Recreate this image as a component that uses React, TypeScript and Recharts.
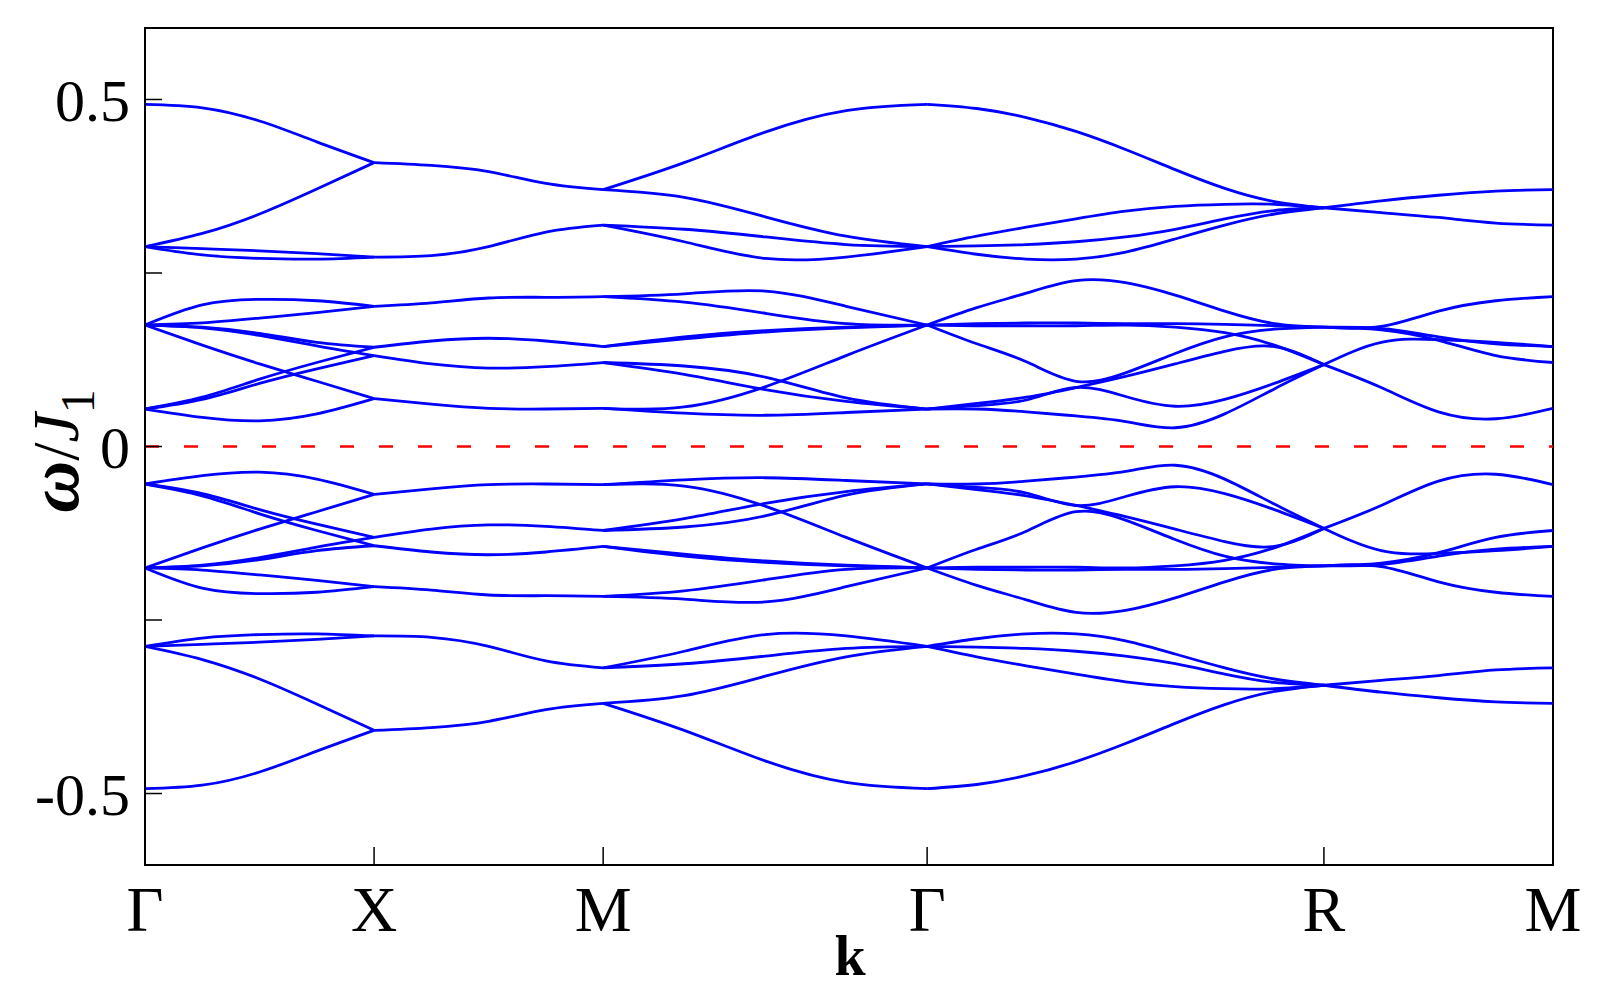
import { LineChart, Line, XAxis, YAxis, ReferenceLine, ReferenceArea } from 'recharts';

// high-symmetry path: Γ-X-M-Γ-R-M, segment lengths 1, 1, √2, √3, 1
const K_TICKS = [0, 1, 2, 3.4142, 5.1463, 6.1463];
const K_LABELS = ['Γ', 'X', 'M', 'Γ', 'R', 'M'];
const W_TICKS = [-0.5, -0.25, 0, 0.25, 0.5];
const W_LABELS = ['-0.5', '', '0', '', '0.5'];
const W_MAX = 0.603;

// bands per segment, values at equal steps along the segment
const GX_UP = [
  [0.493, 0.488, 0.469, 0.439, 0.409],
  [0.288, 0.307, 0.335, 0.371, 0.409],
  [0.288, 0.285, 0.282, 0.278, 0.273],
  [0.288, 0.276, 0.271, 0.270, 0.273],
  [0.175, 0.204, 0.212, 0.210, 0.202],
  [0.175, 0.178, 0.185, 0.193, 0.202],
  [0.175, 0.172, 0.163, 0.150, 0.143],
  [0.175, 0.171, 0.160, 0.145, 0.131],
  [0.175, 0.146, 0.119, 0.094, 0.069],
  [0.054, 0.071, 0.097, 0.121, 0.143],
  [0.054, 0.068, 0.091, 0.112, 0.131],
  [0.054, 0.042, 0.037, 0.047, 0.069],
];
const GX_DN = [
  [-0.493, -0.488, -0.469, -0.439, -0.409],
  [-0.288, -0.307, -0.335, -0.371, -0.409],
  [-0.288, -0.285, -0.282, -0.278, -0.273],
  [-0.288, -0.276, -0.271, -0.270, -0.273],
  [-0.175, -0.204, -0.212, -0.210, -0.202],
  [-0.175, -0.178, -0.185, -0.193, -0.202],
  [-0.175, -0.172, -0.163, -0.150, -0.143],
  [-0.175, -0.171, -0.160, -0.145, -0.131],
  [-0.175, -0.146, -0.119, -0.094, -0.069],
  [-0.054, -0.071, -0.097, -0.121, -0.143],
  [-0.054, -0.068, -0.091, -0.112, -0.131],
  [-0.054, -0.042, -0.037, -0.047, -0.069],
];

const XM_UP = [
  [0.409, 0.405, 0.396, 0.379, 0.370],
  [0.273, 0.275, 0.288, 0.309, 0.319],
  [0.202, 0.207, 0.214, 0.215, 0.216],
  [0.143, 0.152, 0.156, 0.152, 0.144],
  [0.131, 0.119, 0.113, 0.115, 0.121],
  [0.069, 0.061, 0.055, 0.054, 0.055],
];
const XM_DN = [
  [-0.409, -0.405, -0.396, -0.379, -0.370],
  [-0.273, -0.275, -0.288, -0.309, -0.319],
  [-0.202, -0.207, -0.214, -0.215, -0.216],
  [-0.143, -0.152, -0.156, -0.152, -0.144],
  [-0.131, -0.119, -0.113, -0.115, -0.121],
  [-0.069, -0.061, -0.055, -0.054, -0.055],
];

const MG_UP = [
  [0.370, 0.409, 0.453, 0.484, 0.493],
  [0.370, 0.359, 0.331, 0.303, 0.288],
  [0.319, 0.313, 0.302, 0.291, 0.288],
  [0.319, 0.295, 0.271, 0.273, 0.288],
  [0.216, 0.220, 0.224, 0.202, 0.175],
  [0.216, 0.208, 0.192, 0.177, 0.175],
  [0.144, 0.158, 0.167, 0.172, 0.175],
  [0.144, 0.155, 0.165, 0.171, 0.175],
  [0.121, 0.116, 0.100, 0.070, 0.054],
  [0.121, 0.104, 0.082, 0.065, 0.054],
  [0.055, 0.057, 0.086, 0.131, 0.175],
  [0.055, 0.048, 0.045, 0.049, 0.054],
];
const MG_DN = [
  [-0.370, -0.409, -0.453, -0.484, -0.493],
  [-0.370, -0.359, -0.331, -0.303, -0.288],
  [-0.319, -0.313, -0.302, -0.291, -0.288],
  [-0.319, -0.295, -0.271, -0.273, -0.288],
  [-0.216, -0.220, -0.224, -0.202, -0.175],
  [-0.216, -0.208, -0.192, -0.177, -0.175],
  [-0.144, -0.158, -0.167, -0.172, -0.175],
  [-0.144, -0.155, -0.165, -0.171, -0.175],
  [-0.121, -0.116, -0.100, -0.070, -0.054],
  [-0.121, -0.104, -0.082, -0.065, -0.054],
  [-0.055, -0.057, -0.086, -0.131, -0.175],
  [-0.055, -0.048, -0.045, -0.049, -0.054],
];

const GR_UP = [
  [0.493, 0.487, 0.474, 0.454, 0.428, 0.399, 0.372, 0.353, 0.344],
  [0.288, 0.303, 0.316, 0.328, 0.339, 0.346, 0.349, 0.349, 0.344],
  [0.288, 0.289, 0.291, 0.295, 0.302, 0.313, 0.328, 0.340, 0.344],
  [0.288, 0.277, 0.270, 0.270, 0.280, 0.299, 0.319, 0.335, 0.344],
  [0.175, 0.200, 0.221, 0.239, 0.236, 0.218, 0.195, 0.177, 0.172],
  [0.175, 0.177, 0.178, 0.178, 0.177, 0.177, 0.176, 0.174, 0.172],
  [0.175, 0.174, 0.174, 0.174, 0.175, 0.172, 0.164, 0.146, 0.118],
  [0.175, 0.148, 0.122, 0.094, 0.106, 0.134, 0.158, 0.169, 0.172],
  [0.054, 0.054, 0.050, 0.044, 0.036, 0.027, 0.047, 0.083, 0.118],
  [0.054, 0.062, 0.071, 0.085, 0.101, 0.119, 0.137, 0.144, 0.118],
  [0.054, 0.059, 0.067, 0.085, 0.072, 0.058, 0.068, 0.091, 0.118],
];
const GR_DN = [
  [-0.493, -0.487, -0.474, -0.454, -0.428, -0.399, -0.372, -0.353, -0.344],
  [-0.288, -0.303, -0.316, -0.328, -0.339, -0.346, -0.349, -0.349, -0.344],
  [-0.288, -0.289, -0.291, -0.295, -0.302, -0.313, -0.328, -0.340, -0.344],
  [-0.288, -0.277, -0.270, -0.270, -0.280, -0.299, -0.319, -0.335, -0.344],
  [-0.175, -0.200, -0.221, -0.239, -0.236, -0.218, -0.195, -0.177, -0.172],
  [-0.175, -0.177, -0.178, -0.178, -0.177, -0.177, -0.176, -0.174, -0.172],
  [-0.175, -0.174, -0.174, -0.174, -0.175, -0.172, -0.164, -0.146, -0.118],
  [-0.175, -0.148, -0.122, -0.094, -0.106, -0.134, -0.158, -0.169, -0.172],
  [-0.054, -0.054, -0.050, -0.044, -0.036, -0.027, -0.047, -0.083, -0.118],
  [-0.054, -0.062, -0.071, -0.085, -0.101, -0.119, -0.137, -0.144, -0.118],
  [-0.054, -0.059, -0.067, -0.085, -0.072, -0.058, -0.068, -0.091, -0.118],
];

const RM_UP = [
  [0.344, 0.354, 0.362, 0.368, 0.370],
  [0.344, 0.337, 0.330, 0.322, 0.319],
  [0.172, 0.173, 0.195, 0.210, 0.216],
  [0.172, 0.170, 0.158, 0.148, 0.144],
  [0.172, 0.168, 0.153, 0.131, 0.121],
  [0.118, 0.150, 0.154, 0.150, 0.144],
  [0.118, 0.085, 0.050, 0.040, 0.055],
];
const RM_DN = [
  [-0.344, -0.354, -0.362, -0.368, -0.370],
  [-0.344, -0.337, -0.330, -0.322, -0.319],
  [-0.172, -0.173, -0.195, -0.210, -0.216],
  [-0.172, -0.170, -0.158, -0.148, -0.144],
  [-0.172, -0.168, -0.153, -0.131, -0.121],
  [-0.118, -0.150, -0.154, -0.150, -0.144],
  [-0.118, -0.085, -0.050, -0.040, -0.055],
];

const SEGMENTS = [
  { from: 0, to: 1, bands: [...GX_UP, ...GX_DN] },
  { from: 1, to: 2, bands: [...XM_UP, ...XM_DN] },
  { from: 2, to: 3, bands: [...MG_UP, ...MG_DN] },
  { from: 3, to: 4, bands: [...GR_UP, ...GR_DN] },
  { from: 4, to: 5, bands: [...RM_UP, ...RM_DN] },
];

const lines = SEGMENTS.flatMap((seg, s) => {
  const k0 = K_TICKS[seg.from];
  const k1 = K_TICKS[seg.to];
  return seg.bands.map((row, b) => ({
    id: `seg${s}-band${b}`,
    data: row.map((w, i) => ({ k: k0 + ((k1 - k0) * i) / (row.length - 1), w })),
  }));
});

const K_END = K_TICKS[K_TICKS.length - 1];
const serif = '"Liberation Serif", "Times New Roman", serif';

const YLabel = () => (
  <text
    transform="translate(78,451) rotate(-90)"
    textAnchor="middle"
    fontFamily={serif}
    fontSize={66}
    fill="#000"
  >
    <tspan fontWeight="bold" fontStyle="italic" fontSize={72}>ω</tspan>
    <tspan>/</tspan>
    <tspan fontStyle="italic">J</tspan>
    <tspan fontSize={48} dy={16}>1</tspan>
  </text>
);

const KLabel = () => (
  <text x={850} y={975} textAnchor="middle" fontFamily={serif} fontSize={56} fontWeight="bold" fill="#000">
    k
  </text>
);

const App = () => {
  return (
    <div style={{ position: 'absolute', left: 0, top: 0, background: '#fff' }}>
      <LineChart width={1600} height={1000} margin={{ top: 28, right: 47, bottom: 0, left: 0 }}>
        <XAxis
          type="number"
          dataKey="k"
          domain={[0, K_END]}
          ticks={K_TICKS}
          interval={0}
          allowDataOverflow
          tickFormatter={(v: number) => K_LABELS[K_TICKS.indexOf(v)]}
          height={135}
          tickSize={-18}
          tickMargin={39}
          axisLine={{ stroke: '#000', strokeWidth: 2 }}
          tickLine={{ stroke: '#000', strokeWidth: 1.5 }}
          tick={{ fill: '#000', fontSize: 64, fontFamily: serif }}
          label={<KLabel />}
        />
        <YAxis
          type="number"
          dataKey="w"
          domain={[-W_MAX, W_MAX]}
          ticks={W_TICKS}
          interval={0}
          allowDataOverflow
          tickFormatter={(v: number) => W_LABELS[W_TICKS.indexOf(v)]}
          width={145}
          tickSize={-17}
          tickMargin={32}
          axisLine={{ stroke: '#000', strokeWidth: 2 }}
          tickLine={{ stroke: '#000', strokeWidth: 1.5 }}
          tick={{ fill: '#000', fontSize: 60, fontFamily: serif }}
          label={<YLabel />}
        />
        <ReferenceLine y={0} stroke="#ff0000" strokeWidth={2.5} strokeDasharray="14 25" />
        {lines.map((l) => (
          <Line
            key={l.id}
            data={l.data}
            dataKey="w"
            type="natural"
            stroke="#0000ff"
            strokeWidth={2.8}
            dot={false}
            activeDot={false}
            isAnimationActive={false}
          />
        ))}
        <ReferenceArea x1={0} x2={K_END} y1={-W_MAX} y2={W_MAX} fill="none" stroke="#000" strokeWidth={2} />
      </LineChart>
    </div>
  );
};

export default App;
